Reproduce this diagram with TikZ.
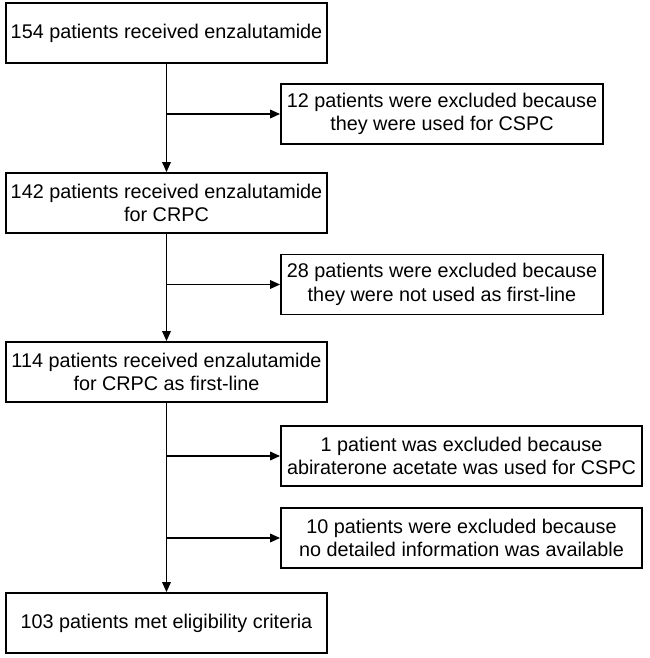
\documentclass[tikz,border=0pt]{standalone}
\usepackage{fontspec}
\setmainfont{Liberation Sans}
\usepackage{tikz}
\usetikzlibrary{arrows.meta}

\begin{document}
\begin{tikzpicture}[x=1pt, y=-1pt, line cap=butt,
	stagebox/.style={draw, line width=1.8pt, minimum width=321pt, minimum height=60pt, align=center, inner sep=0pt, font=\fontsize{19.8}{23.3}\selectfont},
	dropbox/.style={stagebox, minimum width=322pt},
	widebox/.style={stagebox, minimum width=361pt},
	flow/.style={line width=1.8pt, -{Triangle[length=10pt, width=8.5pt]}}]

	\useasboundingbox (0,0) rectangle (649,658);

	\node[stagebox] (recv) at (166.5,33) {154 patients received enzalutamide};
	\node[stagebox] (crpc) at (166.5,203) {142 patients received enzalutamide\\for CRPC};
	\node[stagebox] (first) at (166.5,372) {114 patients received enzalutamide\\for CRPC as first-line};
	\node[stagebox] (elig) at (166.5,623) {103 patients met eligibility criteria};

	\node[dropbox] (exCSPC) at (442,114) {12 patients were excluded because\\they were used for CSPC};
	\node[dropbox] (exLine) at (442,284.5) {28 patients were excluded because\\they were not used as first-line};
	\node[widebox] (exAbi) at (461.5,456) {1 patient was excluded because\\abiraterone acetate was used for CSPC};
	\node[widebox] (exInfo) at (461.5,538) {10 patients were excluded because\\no detailed information was available};

	% main line
	\draw[flow] (recv) -- (crpc);
	\draw[flow] (crpc) -- (first);
	\draw[flow] (first) -- (elig);

	% exclusions
	\draw[flow] (recv.south |- exCSPC.west) -- (exCSPC.west);
	\draw[flow] (crpc.south |- exLine.west) -- (exLine.west);
	\draw[flow] (first.south |- exAbi.west) -- (exAbi.west);
	\draw[flow] (first.south |- exInfo.west) -- (exInfo.west);

\end{tikzpicture}
\end{document}
